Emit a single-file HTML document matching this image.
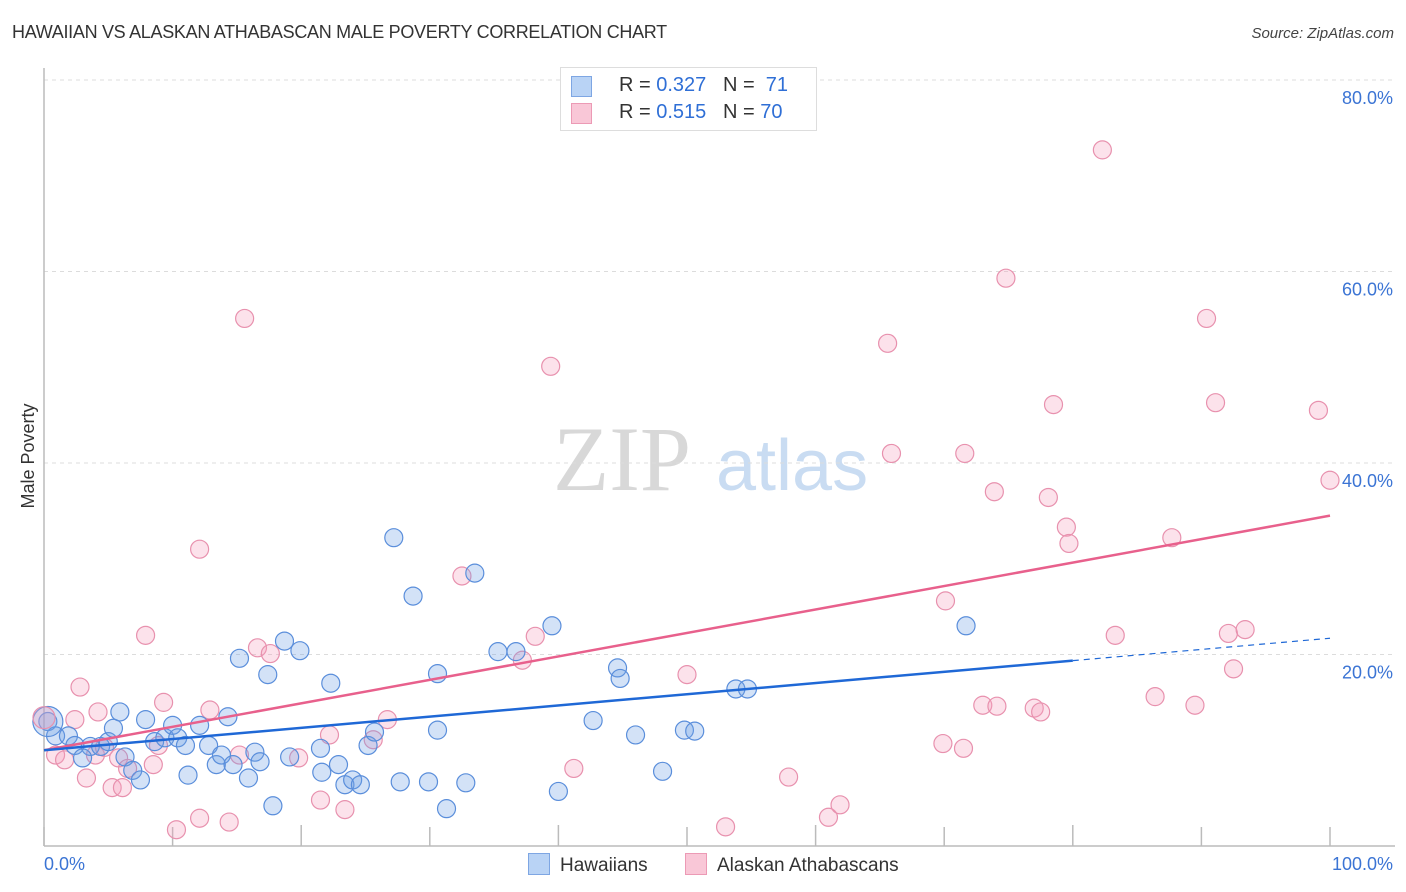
<!DOCTYPE html>
<html><head><meta charset="utf-8">
<style>
body{margin:0;background:#fff;font-family:"Liberation Sans",sans-serif;}
#wrap{position:relative;width:1406px;height:892px;overflow:hidden;}
.t{position:absolute;white-space:nowrap;}
</style></head>
<body>
<div id="wrap">
<div class="t" style="left:12px;top:22px;font-size:18px;color:#333;letter-spacing:-0.3px">HAWAIIAN VS ALASKAN ATHABASCAN MALE POVERTY CORRELATION CHART</div>
<div class="t" style="right:12px;top:25px;font-size:15px;color:#444;font-style:italic">Source: ZipAtlas.com</div>
<svg id="chart" width="1406" height="892" style="position:absolute;left:0;top:0"></svg>
</div>
<script>
const hawX=[0.3,0.9,1.9,2.4,3.6,4.4,5.0,3.0,5.9,5.4,6.3,6.9,7.5,7.9,8.6,9.4,10.0,10.4,11.0,11.2,12.1,12.8,13.4,13.8,14.3,14.7,15.2,15.9,16.4,16.8,17.4,17.8,18.7,19.1,19.9,21.5,21.6,22.3,22.9,23.4,24.0,24.6,25.2,25.7,27.2,27.7,28.7,29.9,30.6,30.6,31.3,32.8,33.5,35.3,36.7,39.5,40.0,42.7,44.6,44.8,46.0,48.1,49.8,50.6,53.8,54.7,71.7];
const hawY=[13.0,11.5,11.5,10.5,10.4,10.4,10.9,9.2,14.0,12.3,9.3,7.9,6.9,13.2,10.9,11.3,12.6,11.3,10.5,7.4,12.6,10.5,8.5,9.5,13.5,8.5,19.6,7.1,9.8,8.8,17.9,4.2,21.4,9.3,20.4,10.2,7.7,17.0,8.5,6.4,6.9,6.4,10.5,11.9,32.2,6.7,26.1,6.7,18.0,12.1,3.9,6.6,28.5,20.3,20.3,23.0,5.7,13.1,18.6,17.5,11.6,7.8,12.1,12.0,16.4,16.4,23.0];
const alaX=[0.9,1.6,2.4,2.8,3.3,4.0,4.2,4.7,5.3,6.1,5.8,6.5,7.9,8.5,8.9,9.3,10.3,12.1,12.1,12.9,14.4,15.2,15.6,16.6,17.6,19.8,21.5,22.2,23.4,25.6,26.7,32.5,37.2,38.2,39.4,41.2,50.0,53.0,57.9,61.0,61.9,65.6,65.9,69.9,70.1,71.5,71.6,73.0,73.9,74.1,74.8,77.0,77.5,78.1,78.5,79.5,79.7,82.3,83.3,86.4,87.7,89.5,90.4,91.1,92.1,92.5,93.4,99.1,100.0];
const alaY=[9.5,9.0,13.2,16.6,7.1,9.5,14.0,10.3,6.1,6.1,9.2,8.1,22.0,8.5,10.5,15.0,1.7,31.0,2.9,14.2,2.5,9.5,55.1,20.7,20.1,9.2,4.8,11.6,3.8,11.1,13.2,28.2,19.4,21.9,50.1,8.1,17.9,2.0,7.2,3.0,4.3,52.5,41.0,10.7,25.6,10.2,41.0,14.7,37.0,14.6,59.3,14.4,14.0,36.4,46.1,33.3,31.6,72.7,22.0,15.6,32.2,14.7,55.1,46.3,22.2,18.5,22.6,45.5,38.2];
const yTicks=[20,40,60,80];
const yTickLabels=["20.0%","40.0%","60.0%","80.0%"];
const xTicks=[0,10,20,30,40,50,60,70,80,90,100];
const hawTrend=[10.0,21.7];
const alaTrend=[10.0,34.5];

const X0=44,X1=1330,Y0=846,PXPCT=9.575;
const sx=v=>X0+(X1-X0)*v/100;
const sy=v=>Y0-v*PXPCT;
const svg=document.getElementById('chart');
const NS='http://www.w3.org/2000/svg';
function mk(tag,attrs){const e=document.createElementNS(NS,tag);for(const k in attrs)e.setAttribute(k,attrs[k]);svg.appendChild(e);return e;}

// watermark
let wm=mk('text',{x:553,y:490,'font-size':92,fill:'#d8d8d8','font-family':'Liberation Serif, serif'});


wm.textContent='ZIP';
let wm2=mk('text',{x:716,y:490,'font-size':72,fill:'#c9dcf2','font-family':'Liberation Sans, sans-serif'});


wm2.textContent='atlas';

yTicks.forEach((v,i)=>{
  const g=mk('line',{x1:X0,x2:1395,y1:sy(v),y2:sy(v),stroke:'#dcdcdc','stroke-dasharray':'4,4','stroke-width':1});
  
  
  const t=mk('text',{x:1393,y:sy(v)+24,'text-anchor':'end','font-size':18,fill:'#3b74d4'});
  
  
  t.textContent=yTickLabels[i];
});
let ax=mk('line',{x1:X0,x2:X0,y1:68,y2:Y0,stroke:'#bbb','stroke-width':1.5});


let bx=mk('line',{x1:X0,x2:1395,y1:Y0,y2:Y0,stroke:'#bbb','stroke-width':1.5});


xTicks.forEach(v=>{
  const l=mk('line',{x1:sx(v),x2:sx(v),y1:(v%20==0&&v>0&&v<100)?825:827,y2:Y0,stroke:'#bbb','stroke-width':1.5});
  
  
});

function dots(xs,ys,fill,stroke,name){
  xs.forEach((x,i)=>{
    const c=mk('circle',{cx:sx(x),cy:sy(ys[i]),r:9,fill:fill,stroke:stroke,'stroke-width':1.2});
    
    
  });
}
dots(alaX,alaY,'rgba(244,160,188,0.3)','#e891ae','alaskan-point');
dots(hawX,hawY,'rgba(110,160,230,0.3)','#5a8edb','hawaiian-point');
let bigH=mk('circle',{cx:sx(0.3),cy:sy(13.0),r:15,fill:'rgba(110,160,230,0.3)',stroke:'#5a8edb','stroke-width':1.2});


let bigA=mk('circle',{cx:sx(0),cy:sy(13.4),r:11,fill:'rgba(244,160,188,0.3)',stroke:'#e891ae','stroke-width':1.2});



const hv=x=>hawTrend[0]+(hawTrend[1]-hawTrend[0])*x/100;
const av=x=>alaTrend[0]+(alaTrend[1]-alaTrend[0])*x/100;
let tl1=mk('line',{x1:sx(0),y1:sy(av(0)),x2:sx(100),y2:sy(av(100)),stroke:'#e8608c','stroke-width':2.5});


let tl2=mk('line',{x1:sx(0),y1:sy(hv(0)),x2:sx(80),y2:sy(hv(80)),stroke:'#1f68d6','stroke-width':2.5});


let tl3=mk('line',{x1:sx(80),y1:sy(hv(80)),x2:sx(100),y2:sy(hv(100)),stroke:'#1f68d6','stroke-width':1.2,'stroke-dasharray':'6,5'});



let xl0=mk('text',{x:44,y:870,'font-size':18,fill:'#3b74d4'});


xl0.textContent='0.0%';
let xl1=mk('text',{x:1393,y:870,'text-anchor':'end','font-size':18,fill:'#3b74d4'});


xl1.textContent='100.0%';
let yt=mk('text',{x:0,y:0,'font-size':18,fill:'#333',transform:'translate(34,456) rotate(-90)','text-anchor':'middle'});


yt.textContent='Male Poverty';
</script>

<div style="position:absolute;left:560px;top:67px;width:255px;height:62px;border:1px solid #ddd;background:#fff;font-size:20px;color:#333">
  <div style="position:absolute;left:10px;top:8px;width:19px;height:19px;background:#b9d3f5;border:1px solid #7ea6e3"></div>
  <div class="t" style="left:58px;top:6px">R = <span style="color:#2f6fd6">0.327</span>&nbsp;&nbsp;&nbsp;N = &nbsp;<span style="color:#2f6fd6">71</span></div>
  <div style="position:absolute;left:10px;top:35px;width:19px;height:19px;background:#f9c7d7;border:1px solid #ec9ab5"></div>
  <div class="t" style="left:58px;top:33px">R = <span style="color:#2f6fd6">0.515</span>&nbsp;&nbsp;&nbsp;N = <span style="color:#2f6fd6">70</span></div>
</div>

<div style="position:absolute;left:528px;top:853px;font-size:19px;color:#333">
  <div style="position:absolute;left:0;top:0;white-space:nowrap"><span style="display:inline-block;width:20px;height:20px;background:#b9d3f5;border:1px solid #7ea6e3;vertical-align:-4px;margin-right:10px"></span>Hawaiians</div>
  <div style="position:absolute;left:157px;top:0;white-space:nowrap"><span style="display:inline-block;width:20px;height:20px;background:#f9c7d7;border:1px solid #ec9ab5;vertical-align:-4px;margin-right:10px"></span>Alaskan Athabascans</div>
</div>
</body></html>
